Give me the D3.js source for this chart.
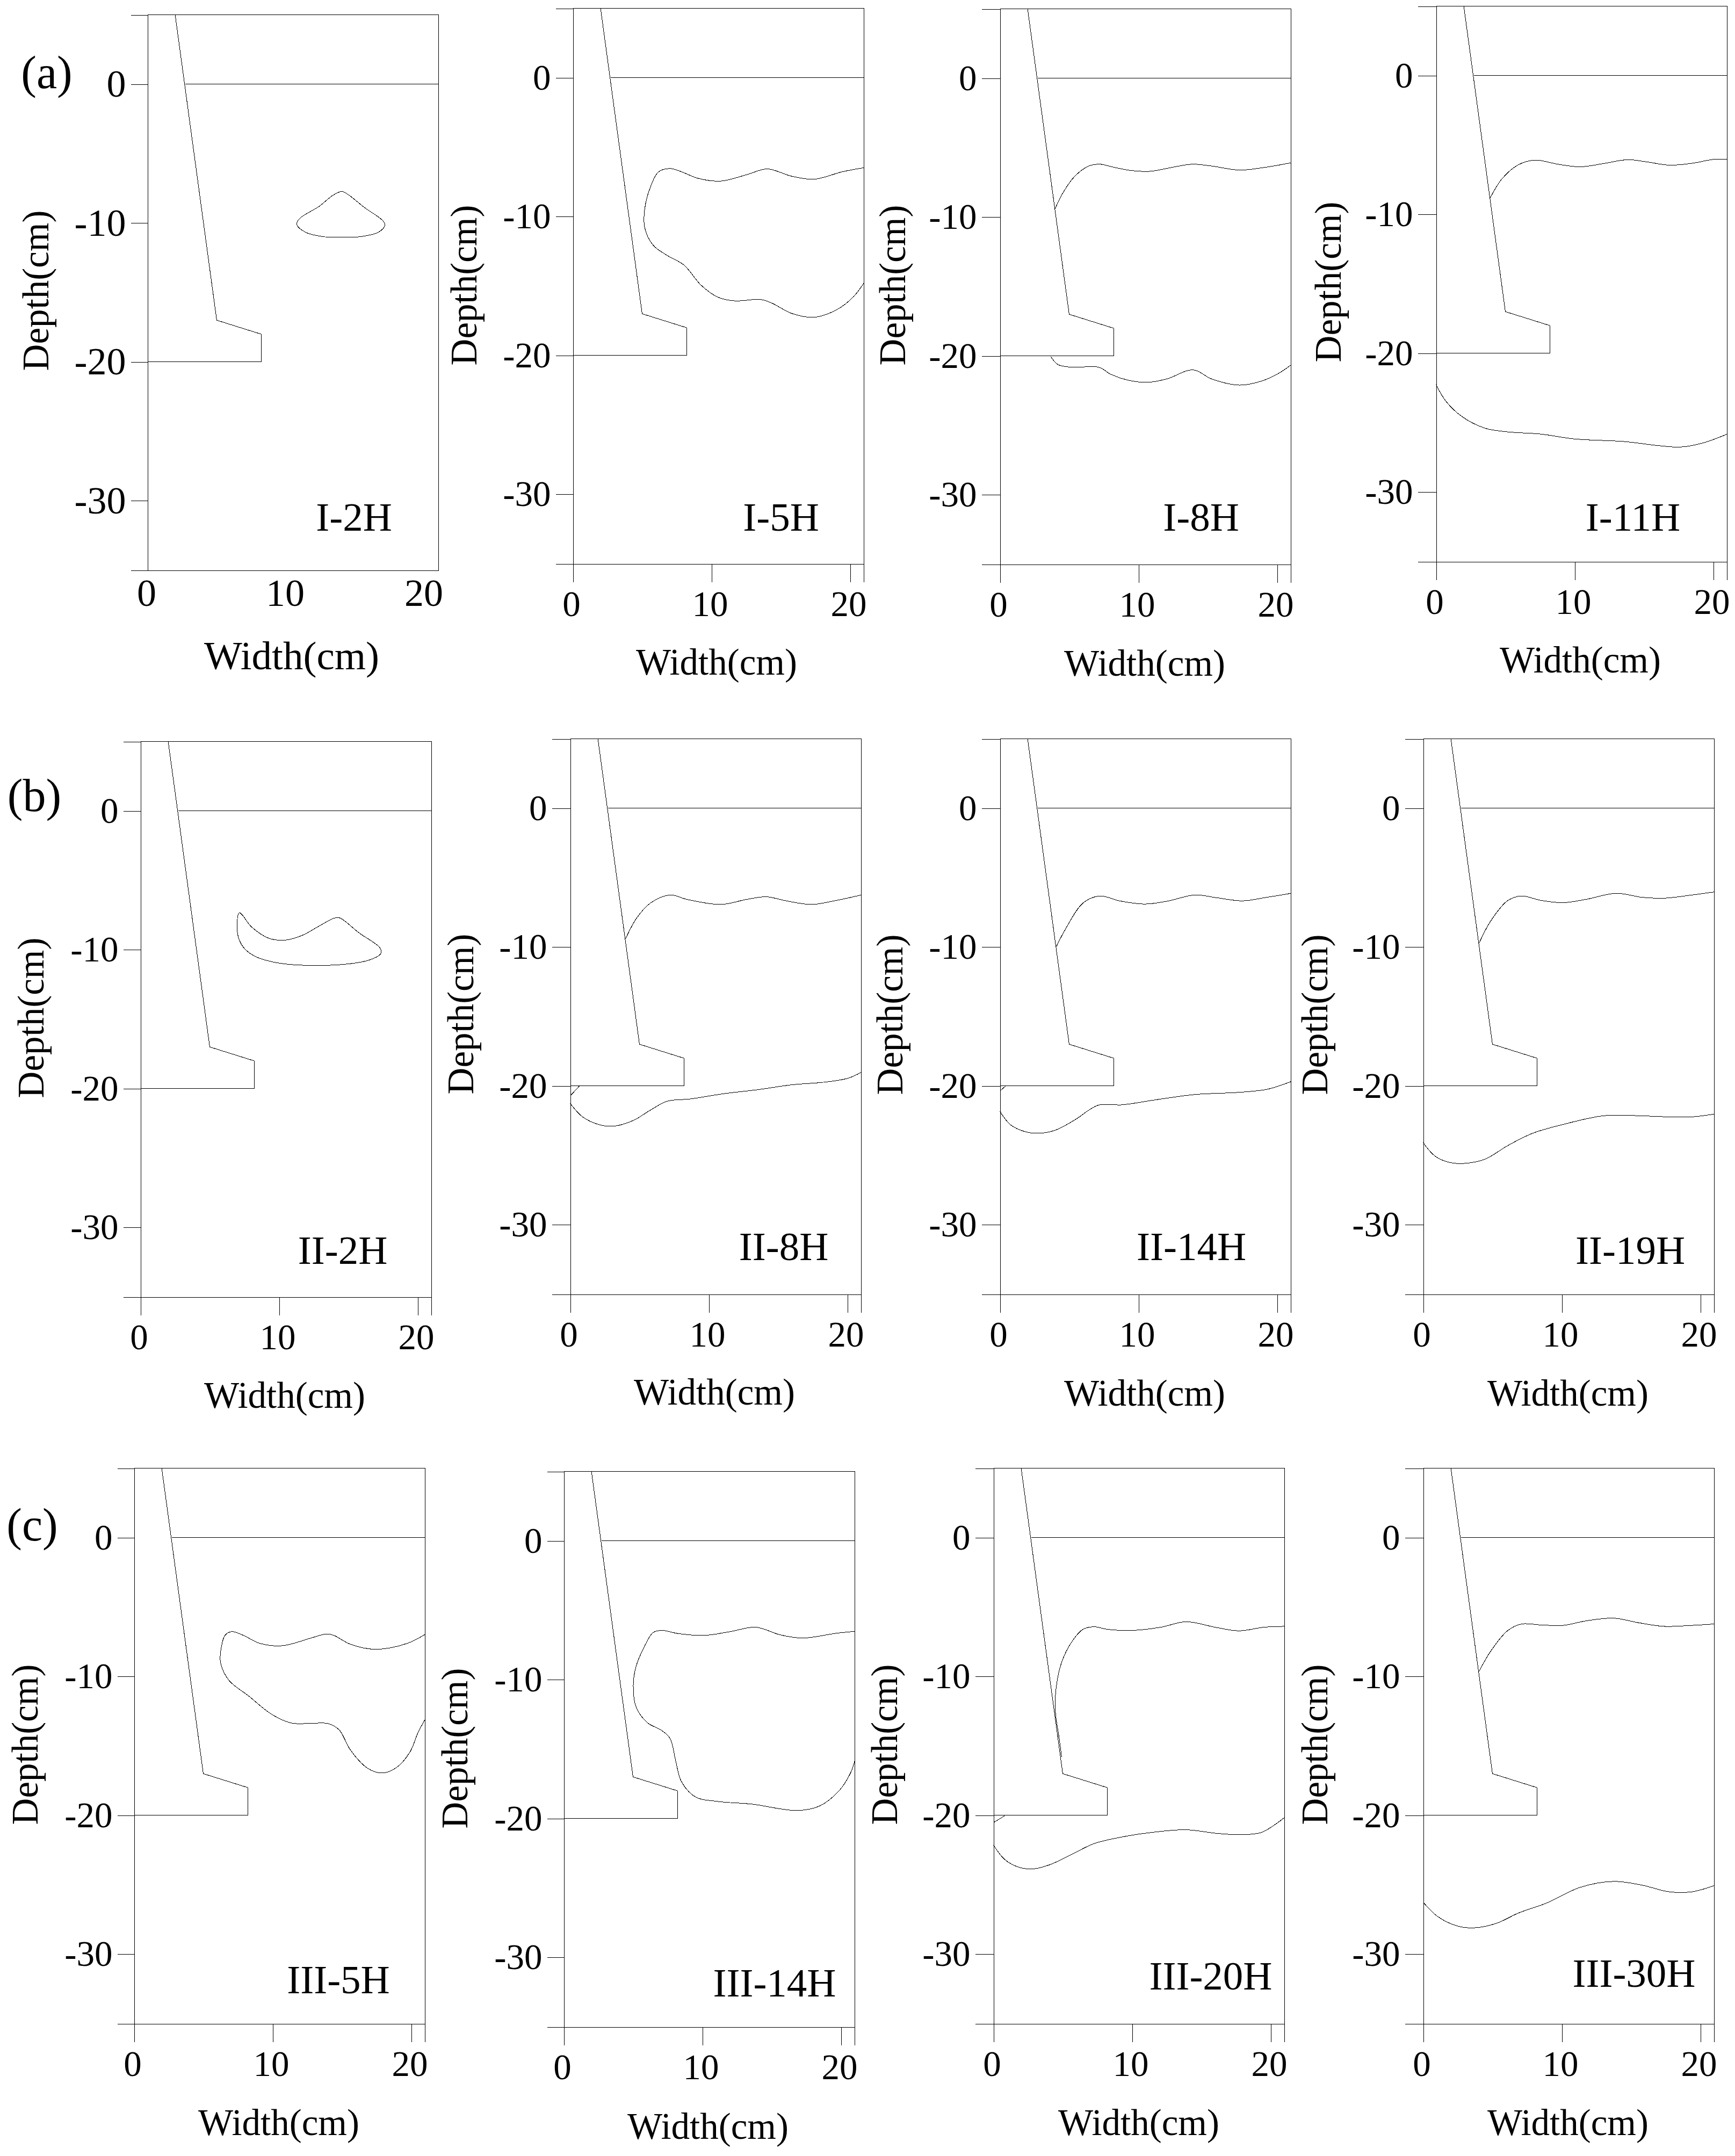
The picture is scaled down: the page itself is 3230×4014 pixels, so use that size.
<!DOCTYPE html>
<html>
<head>
<meta charset="utf-8">
<script src="https://d3js.org/d3.v7.min.js"></script>
<style>
html, body { margin: 0; padding: 0; background: #fff; }
text { font-family: "Liberation Serif", serif; fill: #000; }
</style>
</head>
<body>
<div id="chart"></div>
<script>
// soil wetting fronts, [width cm, depth cm]
var panelNames = ["I-2H","I-5H","I-8H","I-11H","II-2H","II-8H","II-14H","II-19H","III-5H","III-14H","III-20H","III-30H"];
var groupNames = ["(a)","(b)","(c)"];
var xTicks = [0,10,20];
var yTicks = [0,-10,-20,-30];
var wall = [[2,5],[5,-17],[8.2,-18],[8.2,-20],[0,-20]];
var surface = [[2.73,0],[21,0]];

var i2H = [[10.97,-9.69],[12.4,-8.79],[13.4,-7.99],[14.03,-7.73],[14.44,-7.92],[15.66,-8.88],[17,-9.85],[17.13,-10.17],[16.68,-10.65],[15.46,-10.97],[14.03,-11.03],[12.6,-10.97],[11.38,-10.65],[10.77,-10.1]];
var i5H = [[21,-6.48],[19.45,-6.77],[17.41,-7.31],[15.78,-7.09],[14.03,-6.57],[12.52,-6.99],[10.69,-7.44],[9.05,-7.25],[7.83,-6.77],[7.01,-6.54],[6.2,-6.77],[5.59,-7.89],[5.18,-9.49],[5.18,-10.78],[5.79,-12.06],[6.81,-12.8],[8.03,-13.5],[9.26,-14.95],[10.48,-15.81],[11.7,-16.07],[13.54,-15.97],[14.36,-16.23],[15.78,-16.97],[17.41,-17.25],[19.05,-16.7],[20.27,-15.75],[21,-14.78]];
var i8HUpper = [[3.95,-9.46],[4.59,-8.18],[5.4,-7.06],[6.41,-6.32],[7.21,-6.19],[8.22,-6.41],[9.43,-6.64],[10.84,-6.7],[12.25,-6.45],[13.86,-6.19],[15.27,-6.32],[17.28,-6.61],[18.9,-6.45],[21,-6.09]];
var i8HLower = [[3.67,-20.04],[4.19,-20.62],[5.2,-20.81],[7.13,-20.81],[8.02,-21.33],[9.23,-21.74],[10.64,-21.9],[12.05,-21.65],[13.94,-21],[15.27,-21.65],[17.28,-22.1],[18.9,-21.8],[20.1,-21.26],[21,-20.65]];
var i11HUpper = [[3.87,-8.88],[4.75,-7.44],[5.96,-6.41],[7.17,-6.09],[8.78,-6.38],[10.39,-6.57],[12,-6.35],[13.82,-6.06],[15.23,-6.22],[16.84,-6.45],[18.45,-6.32],[20.06,-6.03],[21,-6.03]];
var i11HLower = [[0,-22.26],[0.73,-23.48],[1.93,-24.6],[3.55,-25.4],[5.16,-25.66],[7.57,-25.82],[9.99,-26.17],[13.62,-26.36],[16.04,-26.65],[17.65,-26.75],[19.26,-26.46],[21,-25.82]];

var ii2H = [[7.14,-7.34],[8.03,-8.37],[9.26,-9.17],[10.48,-9.3],[11.7,-8.95],[12.93,-8.27],[13.95,-7.73],[14.36,-7.7],[15.78,-8.79],[17.29,-9.88],[17.33,-10.29],[16.6,-10.71],[15.17,-11],[12.32,-11.13],[9.87,-10.94],[8.24,-10.46],[7.42,-9.81],[7.01,-8.85]];
var ii8HUpper = [[4,-9.4],[4.77,-7.95],[5.79,-6.83],[7.22,-6.25],[8.44,-6.57],[10.89,-6.93],[12.72,-6.57],[14.15,-6.38],[15.58,-6.67],[17.41,-6.93],[19.05,-6.67],[21,-6.25]];
var ii8HStub = [[0,-20.72],[0.69,-19.98]];
var ii8HLower = [[0,-21.26],[0.9,-22.23],[2.12,-22.8],[3.14,-22.9],[4.57,-22.48],[5.79,-21.74],[7.01,-21.1],[8.65,-20.94],[11.09,-20.56],[13.54,-20.27],[15.99,-19.92],[18.43,-19.72],[20.07,-19.44],[21,-19.02]];
var ii14HUpper = [[4.07,-9.97],[4.79,-8.6],[6,-6.83],[7.21,-6.32],[8.62,-6.67],[10.44,-6.9],[12.05,-6.7],[14.06,-6.25],[15.67,-6.45],[17.49,-6.67],[19.3,-6.41],[21,-6.13]];
var ii14HStub = [[0,-20.37],[0.44,-19.98]];
var ii14HLower = [[0,-21.84],[0.77,-22.8],[1.77,-23.28],[2.78,-23.41],[3.99,-23.19],[5.4,-22.45],[7.09,-21.39],[8.82,-21.36],[11.24,-21],[14.06,-20.62],[17.28,-20.46],[19.3,-20.24],[21,-19.69]];
var ii19HUpper = [[4.03,-9.72],[4.88,-8.11],[6.08,-6.67],[7.09,-6.32],[8.5,-6.64],[10.11,-6.8],[11.72,-6.57],[13.94,-6.13],[15.75,-6.41],[17.36,-6.48],[19.38,-6.25],[21,-6.03]];
var ii19HLower = [[0,-24.09],[0.85,-25.05],[1.85,-25.5],[2.86,-25.59],[4.47,-25.27],[6.08,-24.31],[7.9,-23.41],[10.11,-22.77],[12.93,-22.16],[14.95,-22.13],[17.77,-22.23],[19.38,-22.23],[21,-22.03]];

var iii5H = [[21,-6.97],[19.7,-7.62],[17.45,-8.04],[15.62,-7.68],[14.4,-7.03],[13.87,-6.94],[12.77,-7.23],[10.73,-7.78],[9.09,-7.62],[7.87,-7.03],[7.06,-6.77],[6.57,-7.03],[6.28,-8.01],[6.24,-8.98],[6.85,-10.28],[8.28,-11.41],[9.91,-12.71],[11.34,-13.35],[12.56,-13.39],[13.99,-13.39],[14.8,-13.84],[15.62,-15.3],[16.84,-16.6],[17.86,-16.95],[18.88,-16.6],[19.9,-15.46],[20.51,-14],[21,-13.1]];
var iii14H = [[21,-6.52],[19.7,-6.65],[17.25,-7],[15.62,-6.77],[13.87,-6.22],[11.95,-6.55],[10.11,-6.81],[8.28,-6.68],[7.06,-6.45],[6.44,-6.61],[5.75,-7.75],[5.22,-9.04],[5.02,-10.34],[5.22,-11.96],[6.04,-13.1],[7.06,-13.65],[7.67,-14.23],[8.08,-15.85],[8.48,-17.31],[9.5,-18.44],[11.13,-18.77],[13.58,-18.96],[16.84,-19.42],[18.47,-19.09],[19.9,-17.96],[20.72,-16.66],[21,-15.85]];
var iii20HUpper = [[21,-6.39],[19.54,-6.45],[17.73,-6.71],[16.12,-6.48],[13.9,-6.06],[12.09,-6.45],[10.07,-6.68],[8.26,-6.61],[7.25,-6.42],[6.45,-6.61],[5.64,-7.52],[4.92,-8.98],[4.51,-10.92],[4.47,-12.54],[4.75,-14.49],[4.92,-15.79]];
var iii20HStub = [[0,-20.52],[0.81,-20.03]];
var iii20HLower = [[0,-22.14],[0.81,-23.18],[1.81,-23.73],[2.82,-23.86],[4.03,-23.57],[5.64,-22.82],[7.25,-22.04],[9.27,-21.56],[11.68,-21.2],[13.9,-21.04],[16.12,-21.3],[17.73,-21.39],[19.34,-21.23],[21,-20.16]];
var iii30HUpper = [[4.03,-9.63],[4.88,-8.17],[6.08,-6.71],[7.09,-6.22],[8.5,-6.29],[10.11,-6.32],[11.72,-6],[13.74,-5.8],[15.55,-6.13],[17.36,-6.39],[19.38,-6.32],[21,-6.22]];
var iii30HLower = [[0,-26.26],[1.05,-27.29],[2.46,-27.97],[3.67,-28.1],[5.28,-27.78],[6.89,-27.03],[8.9,-26.32],[11.32,-25.19],[13.74,-24.76],[15.75,-25.02],[17.77,-25.51],[19.38,-25.51],[21,-25.06]];

var openCurves = [[],[i5H],[i8HUpper,i8HLower],[i11HUpper,i11HLower],
	[],[ii8HUpper,ii8HStub,ii8HLower],[ii14HUpper,ii14HStub,ii14HLower],[ii19HUpper,ii19HLower],
	[iii5H],[iii14H],[iii20HUpper,iii20HStub,iii20HLower],[iii30HUpper,iii30HLower]];
var closedCurves = [[i2H],[],[],[],[ii2H],[],[],[],[],[],[],[]];

// layout, in page pixels
var pageWidth = 3230;
var pageHeight = 4014;
var pxPerCmX = 25.8;
var pxPerCmY = 25.85;
var panelLeft = [274,1066,1861,2673,261,1061,1861,2649,249,1049,1849,2649];
var panelTop = [27,15,16,11,1380,1375,1375,1375,2733,2739,2733,2733];
var yTickLen = [31,32,34,34,32,34,34,34,31,31,34,34];
var nameX = [659,1454,2236,3040,638,1459,2218,3035,630,1442,2254,3042];
var nameY = [988,988,988,988,2353,2346,2346,2353,3711,3717,3704,3699];
var widthLabelX = [543,1334,2131,2942,530,1330,2131,2919,519,1318,2120,2919];
var widthLabelY = [1246,1256,1258,1252,2621,2615,2617,2617,3975,3982,3975,3975];
var depthLabelX = [90,887,1685,2496,81,881,1680,2471,70,870,1670,2471];
var depthLabelY = [541,531,531,525,1895,1888,1889,1889,3248,3255,3248,3248];
var groupX = [87,64,60];
var groupY = [164,1510,2868];

var svg = d3.select("#chart")
	.append("svg")
	.attr("width", pageWidth)
	.attr("height", pageHeight)
	.style("display", "block");

var line = d3.line().curve(d3.curveCatmullRom.alpha(0.5));
var closedLine = d3.line().curve(d3.curveCatmullRomClosed.alpha(0.5));

function drawPanel(i) {
	var w = 21 * pxPerCmX;
	var h = 40 * pxPerCmY;
	var x = d3.scaleLinear().domain([0,21]).range([0,w]);
	var y = d3.scaleLinear().domain([5,-35]).range([0,h]);
	var first = (i === 0);

	var g = svg.append("g")
		.attr("transform", "translate(" + (panelLeft[i] + 0.5) + "," + (panelTop[i] + 0.5) + ")");

	// first panel has no x ticks and larger numbers
	var xAxis = d3.axisBottom(x).tickValues(xTicks).tickSizeOuter(0).tickFormat(String)
		.tickSize(first ? 0 : 34).tickPadding(first ? 15 : 16);
	var yAxis = d3.axisLeft(y).tickValues(yTicks).tickSizeOuter(0).tickFormat(String)
		.tickSize(yTickLen[i]).tickPadding(9);

	var gx = g.append("g").attr("transform", "translate(0," + h + ")").call(xAxis);
	var gy = g.append("g").call(yAxis);
	gx.selectAll("text")
		.attr("dx", first ? -2 : -3)
		.style("font-family", "Liberation Serif")
		.style("font-size", first ? "72px" : "67px");
	gy.selectAll("text")
		.style("font-family", "Liberation Serif")
		.style("font-size", first ? "72px" : "67px");
	g.selectAll(".domain, .tick line")
		.attr("stroke", "#000")
		.attr("stroke-width", 1)
		.attr("shape-rendering", "crispEdges");

	// top and right of the box
	g.append("path")
		.attr("d", "M0,0H" + w + "V" + h)
		.attr("fill", "none")
		.attr("stroke", "#000")
		.attr("shape-rendering", "crispEdges");

	function mark(d, gen) {
		g.append("path")
			.attr("d", gen(d.map(function(p) { return [x(p[0]), y(p[1])]; })))
			.attr("fill", "none")
			.attr("stroke", "#000")
			.attr("stroke-width", 1)
			.attr("shape-rendering", "crispEdges");
	}
	var straight = d3.line();
	mark(wall, straight);
	mark(surface, straight);
	openCurves[i].forEach(function(c) { mark(c, line); });
	closedCurves[i].forEach(function(c) { mark(c, closedLine); });

	svg.append("text")
		.attr("x", nameX[i])
		.attr("y", nameY[i])
		.attr("text-anchor", "middle")
		.style("font-size", "75px")
		.text(panelNames[i]);

	svg.append("text")
		.attr("x", widthLabelX[i])
		.attr("y", widthLabelY[i])
		.attr("text-anchor", "middle")
		.style("font-size", first ? "75px" : "69px")
		.text("Width(cm)");

	svg.append("text")
		.attr("transform", "translate(" + depthLabelX[i] + "," + depthLabelY[i] + ") rotate(-90)")
		.attr("text-anchor", "middle")
		.style("font-size", "69px")
		.text("Depth(cm)");
}

panelNames.forEach(function(name, i) { drawPanel(i); });

groupNames.forEach(function(name, i) {
	svg.append("text")
		.attr("x", groupX[i])
		.attr("y", groupY[i])
		.attr("text-anchor", "middle")
		.style("font-size", "86px")
		.text(name);
});
</script>
</body>
</html>
